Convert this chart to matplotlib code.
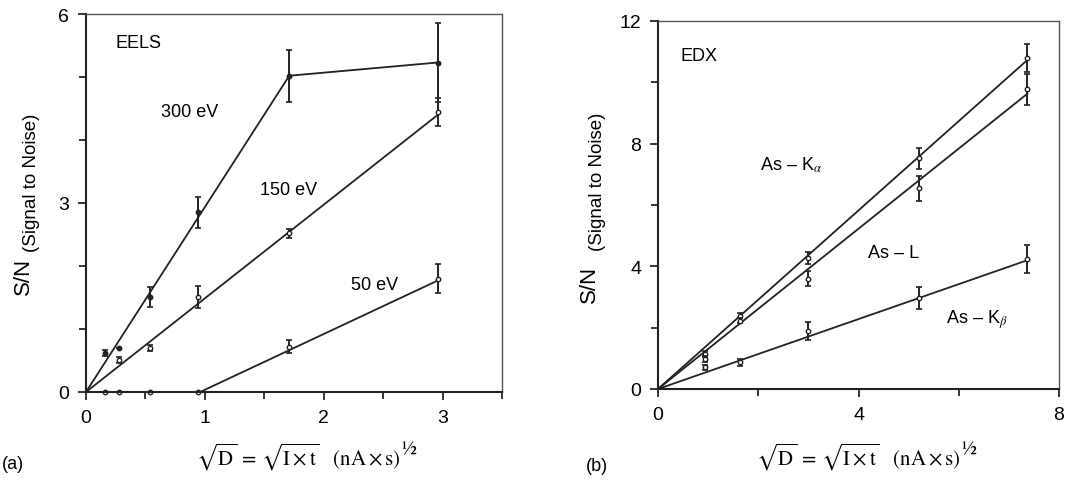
import matplotlib
matplotlib.use("Agg")
import matplotlib.pyplot as plt
import numpy as np

plt.rcParams['font.family'] = ['Liberation Sans', 'DejaVu Sans']
plt.rcParams['mathtext.fontset'] = 'stix'

# EELS data (a) #
#################

eels_300_x = [0.16, 0.28, 0.54, 0.94, 1.71, 2.96]
eels_300_y = [0.62, 0.70, 1.51, 2.85, 5.02, 5.23]
eels_300_err = [0.05, 0.0, 0.16, 0.25, 0.41, 0.63]

eels_150_x = [0.28, 0.54, 0.94, 1.71, 2.96]
eels_150_y = [0.51, 0.70, 1.51, 2.52, 4.45]
eels_150_err = [0.05, 0.05, 0.18, 0.07, 0.22]

eels_50_x = [0.16, 0.28, 0.54, 0.94, 1.71, 2.96]
eels_50_y = [0.0, 0.0, 0.0, 0.0, 0.72, 1.80]
eels_50_err = [0.0, 0.0, 0.0, 0.0, 0.10, 0.23]

# fitted lines
fit_300_x = [0.0, 1.71, 2.96]
fit_300_y = [0.0, 5.02, 5.23]
fit_150_x = [0.0, 2.96]
fit_150_y = [0.0, 4.40]
fit_50_x = [0.96, 2.96]
fit_50_y = [0.0, 1.77]

# EDX data (b) #
################

edx_x = [0.94, 1.64, 3.0, 5.21, 7.37]

ka_y = [1.14, 2.39, 4.26, 7.52, 10.80]
ka_err = [0.10, 0.08, 0.20, 0.35, 0.45]
l_y = [0.98, 2.23, 3.60, 6.54, 9.77]
l_err = [0.10, 0.08, 0.25, 0.40, 0.50]
kb_y = [0.71, 0.87, 1.90, 2.96, 4.23]
kb_err = [0.08, 0.12, 0.30, 0.35, 0.45]

fit_edx_x = [0.0, 7.37]
fit_ka_y = [0.0, 10.73]
fit_l_y = [0.0, 9.63]
fit_kb_y = [0.0, 4.20]

W, H = 1083, 481
INK = '#222222'


def px(x, y):
    """pixel position -> figure fraction"""
    return x / W, 1 - y / H


def style_axes(ax, xmax, ymax, ymajor):
    ax.set_xlim(0, xmax)
    ax.set_ylim(0, ymax)
    ax.set_yticks(np.arange(0, ymax + 1e-6, ymajor))
    ax.set_yticks(np.arange(ymajor / 3, ymax, ymajor / 3), minor=True)
    ax.tick_params(which='both', direction='out', width=1.1, labelsize=14)
    ax.tick_params(which='major', length=6, pad=6)
    ax.tick_params(which='minor', length=5)
    for s in ('left', 'bottom'):
        ax.spines[s].set_linewidth(1.5)
        ax.spines[s].set_color(INK)
    for s in ('top', 'right'):
        ax.spines[s].set_linewidth(1.0)
        ax.spines[s].set_color('#555555')


xlabel = r'$\sqrt{\mathrm{D}}\,=\,\sqrt{\mathrm{I}\times\mathrm{t}}\quad(\mathrm{nA}\times\mathrm{s})$'
ebar = dict(fmt='none', ecolor=INK, elinewidth=1.4, capsize=2.5, capthick=1.2)
open_mk = dict(ms=3.2, mfc='white', mec=INK, mew=1)

fig = plt.figure(figsize=(W / 100, H / 100), dpi=100)

# panel (a)
ax1 = fig.add_axes([86 / W, 1 - 393 / H, 416 / W, 378 / H])
ax1.plot(fit_300_x, fit_300_y, color=INK, lw=1.3)
ax1.plot(fit_150_x, fit_150_y, color=INK, lw=1.3)
ax1.plot(fit_50_x, fit_50_y, color=INK, lw=1.3)
ax1.errorbar(eels_300_x, eels_300_y, yerr=eels_300_err, **ebar)
ax1.errorbar(eels_150_x, eels_150_y, yerr=eels_150_err, **ebar)
ax1.errorbar(eels_50_x, eels_50_y, yerr=eels_50_err, **ebar)
ax1.plot(eels_300_x, eels_300_y, 'o', ms=3.2, color=INK, clip_on=False)
ax1.plot(eels_150_x, eels_150_y, 'o', clip_on=False, **open_mk)
ax1.plot(eels_50_x, eels_50_y, 'o', clip_on=False, **open_mk)
style_axes(ax1, 3.5, 6, 3)
ax1.set_xticks(np.arange(0, 3.01, 1))
ax1.set_xticks(np.arange(0.5, 3.51, 0.5), minor=True)

ax1.text(0.25, 5.55, 'EELS', fontsize=13, va='center')
ax1.text(0.63, 4.45, '300 eV', fontsize=13, va='center')
ax1.text(1.46, 3.22, '150 eV', fontsize=13, va='center')
ax1.text(2.23, 1.71, '50 eV', fontsize=13, va='center')

# panel (b)
ax2 = fig.add_axes([658 / W, 1 - 390 / H, 401 / W, 368 / H])
ax2.plot(fit_edx_x, fit_ka_y, color=INK, lw=1.3)
ax2.plot(fit_edx_x, fit_l_y, color=INK, lw=1.3)
ax2.plot(fit_edx_x, fit_kb_y, color=INK, lw=1.3)
for y, e in ((ka_y, ka_err), (l_y, l_err), (kb_y, kb_err)):
    ax2.errorbar(edx_x, y, yerr=e, **ebar)
    ax2.plot(edx_x, y, 'o', **open_mk)
style_axes(ax2, 8, 12, 4)
ax2.set_xticks([0, 4, 8])
ax2.set_xticks([2, 6], minor=True)
ax2.set_yticks([2, 6, 10], minor=True)

ax2.text(0.45, 10.86, 'EDX', fontsize=13, va='center')
ax2.text(2.04, 7.33, r'As – K$_{\alpha}$', fontsize=13, va='center')
ax2.text(4.19, 4.45, 'As – L', fontsize=13, va='center')
ax2.text(5.75, 2.28, r'As – K$_{\beta}$', fontsize=13, va='center')

# y labels: big S/N with smaller note
for sn, note in (((23, 276), (31, 183)), ((589, 284), (598, 182))):
    fig.text(*px(*sn), 'S/N', fontsize=16, rotation=90, ha='center', va='center')
    fig.text(*px(*note), '(Signal to Noise)', fontsize=13.5, rotation=90,
             ha='center', va='center')

# x labels with a raised one-half exponent, and panel tags
fig.canvas.draw()
renderer = fig.canvas.get_renderer()
for cx in (298, 858):
    t = fig.text(*px(cx, 457), xlabel, fontsize=15, ha='center', va='center')
    bb = t.get_window_extent(renderer)
    fig.text(bb.x1 / W + 1 / W, bb.y1 / H + 1 / H, r'$½$', fontsize=14,
             ha='left', va='top')

fig.text(*px(2, 465), '(a)', fontsize=13, ha='left', va='center')
fig.text(*px(586, 467), '(b)', fontsize=13, ha='left', va='center')

fig.savefig('out.png', dpi=100)
